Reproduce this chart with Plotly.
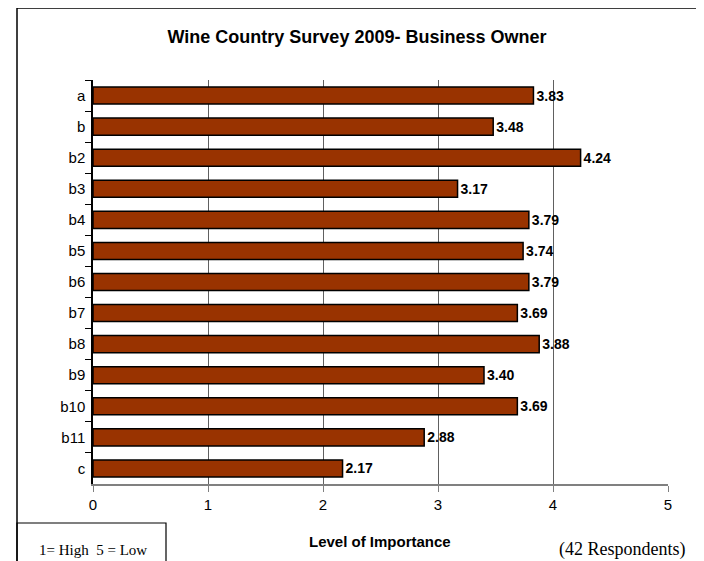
import plotly.graph_objects as go

categories = ["a", "b", "b2", "b3", "b4", "b5", "b6", "b7", "b8", "b9", "b10", "b11", "c"]
values = [3.83, 3.48, 4.24, 3.17, 3.79, 3.74, 3.79, 3.69, 3.88, 3.40, 3.69, 2.88, 2.17]
x_ticks = [0, 1, 2, 3, 4, 5]

# page body has an 8px margin; work in reference pixel coordinates and shift
O = 8
W, H = 704 - O, 561 - O
L, R, T, B = 93 - O, 668 - O, 80 - O, 484 - O


def px(x):
    return (x - O - L) / (R - L)


def py(y):
    return (B - (y - O)) / (B - T)


fig = go.Figure(go.Bar(
    x=values, y=categories, orientation="h",
    marker=dict(color="#993300", line=dict(color="black", width=1.5)),
    text=[f"{v:.2f}" for v in values], textposition="outside",
    textfont=dict(family="Liberation Sans, Arial", size=14, color="black", weight="bold"),
    cliponaxis=False, width=0.55,
))

fig.update_layout(
    width=W, height=H,
    margin=dict(l=L, r=W - R, t=T, b=H - B, autoexpand=False),
    paper_bgcolor="white", plot_bgcolor="white",
    showlegend=False,
    font=dict(family="Liberation Sans, Arial", size=14, color="black"),
    title=dict(text="<b>Wine Country Survey 2009- Business Owner</b>",
               x=px(357), xref="paper", xanchor="center",
               y=1 - (37 - O) / H, yanchor="middle",
               font=dict(size=18, family="Liberation Sans, Arial", color="black")),
    xaxis=dict(range=[0, 5], tickvals=x_ticks, ticks="outside", ticklen=6,
               tickcolor="#808080", showgrid=True, gridcolor="#606060", gridwidth=1,
               showline=True, linecolor="#808080", linewidth=1.5, zeroline=False,
               tickfont=dict(size=15), fixedrange=True),
    yaxis=dict(autorange="reversed", ticks="outside", ticklen=6, tickson="boundaries",
               tickcolor="black", showline=True, linecolor="black", linewidth=1.5,
               showgrid=False, tickfont=dict(size=15), ticklabelstandoff=3),
    shapes=[
        dict(type="rect", xref="paper", yref="paper",
             x0=px(17), x1=px(703), y0=py(565), y1=py(8),
             line=dict(color="black", width=1.5)),
        dict(type="rect", xref="paper", yref="paper",
             x0=px(17), x1=px(166), y0=py(565), y1=py(523),
             line=dict(color="black", width=1.2)),
    ],
    annotations=[
        dict(text="<b>Level of Importance</b>", xref="paper", yref="paper",
             x=px(380), y=py(541), xanchor="center", yanchor="middle", showarrow=False,
             font=dict(size=15, family="Liberation Sans, Arial")),
        dict(text="(42 Respondents)", xref="paper", yref="paper",
             x=px(622), y=py(549), xanchor="center", yanchor="middle", showarrow=False,
             font=dict(size=18, family="Liberation Serif, Times New Roman")),
        dict(text="1= High  5 = Low", xref="paper", yref="paper",
             x=px(93), y=py(550), xanchor="center", yanchor="middle", showarrow=False,
             font=dict(size=15, family="Liberation Serif, Times New Roman")),
    ],
)

fig.write_html("out.html")
